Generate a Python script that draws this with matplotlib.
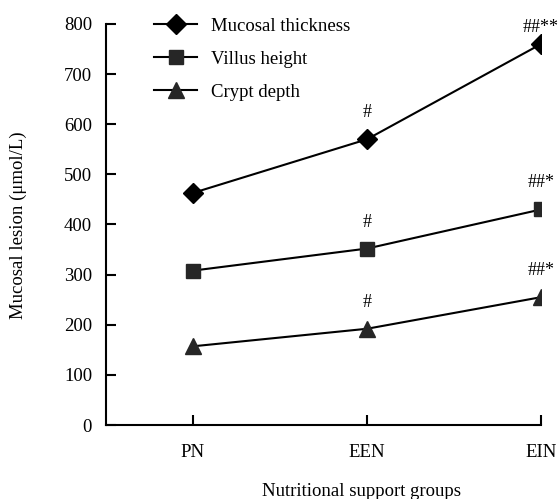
import matplotlib
matplotlib.use("Agg")
import matplotlib.pyplot as plt

plt.rcParams['font.family'] = ['Liberation Serif', 'DejaVu Serif']

groups = ['PN', 'EEN', 'EIN']
mucosal_thickness = [463, 570, 760]
villus_height = [308, 352, 430]
crypt_depth = [157, 192, 255]
marks_mucosal = ['', '#', '##**']
marks_villus = ['', '#', '##*']
marks_crypt = ['', '#', '##*']

fig = plt.figure(figsize=(5.59, 4.99), dpi=100)
ax = fig.add_axes([106 / 559, 1 - 425 / 499, (541 - 106) / 559, (425 - 24) / 499])

x = list(range(1, len(groups) + 1))
ax.plot(x, mucosal_thickness, color='black', lw=1.5, marker='D', ms=10,
        mfc='black', mec='black', label='Mucosal thickness')
ax.plot(x, villus_height, color='black', lw=1.5, marker='s', ms=10,
        mfc='#262626', mec='#262626', label='Villus height')
ax.plot(x, crypt_depth, color='black', lw=1.5, marker='^', ms=12,
        mfc='#262626', mec='#262626', label='Crypt depth')

# significance marks above the points
for vals, marks in [(mucosal_thickness, marks_mucosal),
                    (villus_height, marks_villus),
                    (crypt_depth, marks_crypt)]:
    for xi, v, m in zip(x, vals, marks):
        if m:
            off = 6 if v > 700 else 13
            ax.annotate(m, (xi, v), xytext=(0, off), textcoords='offset points',
                        ha='center', va='bottom', fontsize=13,
                        annotation_clip=False)

ax.set_xlim(0.5, 3.0)
ax.set_ylim(0, 800)
ax.set_xticks(x)
ax.set_xticklabels(groups)
ax.set_yticks(range(0, 801, 100))
ax.tick_params(direction='in', length=7, width=1.5, labelsize=13.5)
ax.tick_params(axis='y', pad=10)
ax.tick_params(axis='x', pad=14)
for s in ['top', 'right']:
    ax.spines[s].set_visible(False)
for s in ['left', 'bottom']:
    ax.spines[s].set_linewidth(1.5)

ax.legend(loc='upper left', bbox_to_anchor=(0.072, 1.058), frameon=False,
          fontsize=13.5, handlelength=2.3, handletextpad=0.75, labelspacing=0.85)

fig.text(361 / 559, 1 - 491 / 499, 'Nutritional support groups', ha='center',
         va='center', fontsize=13.5)
fig.text(18 / 559, 1 - 225 / 499, 'Mucosal lesion (μmol/L)', rotation=90,
         ha='center', va='center', fontsize=13.5)

fig.savefig('out.png', dpi=100)
